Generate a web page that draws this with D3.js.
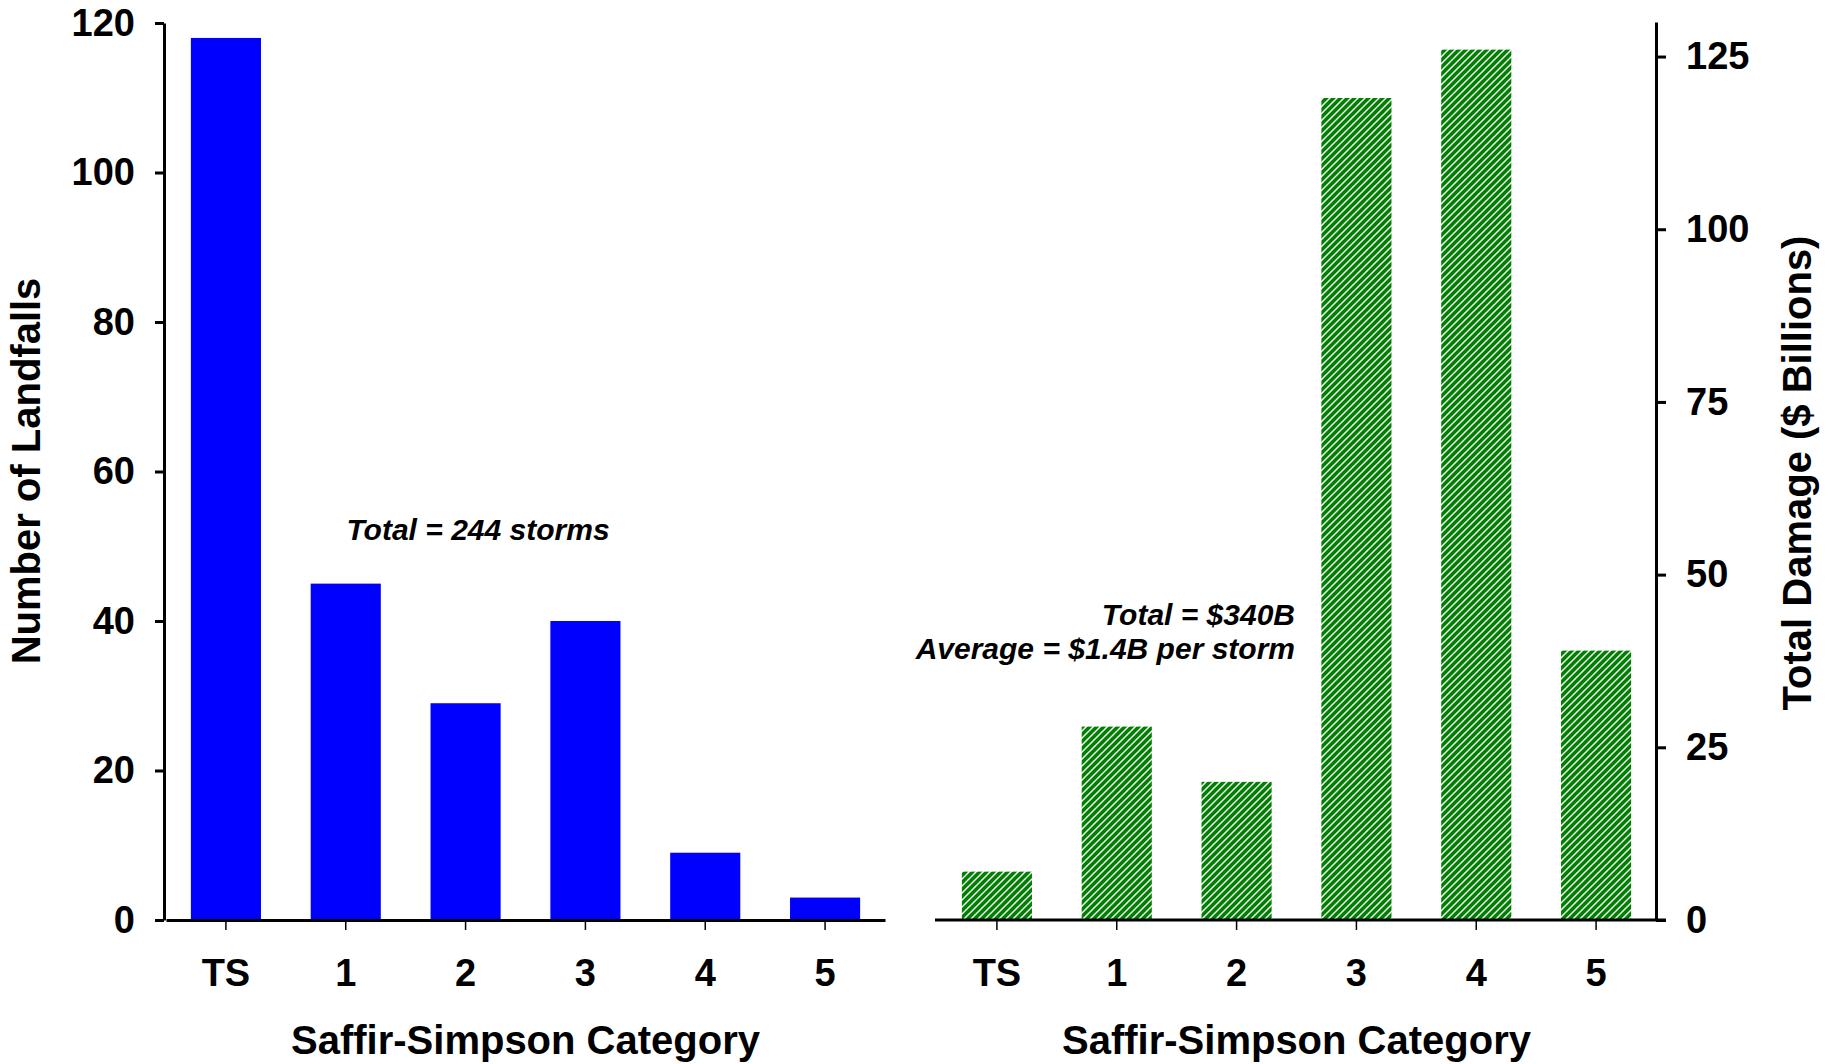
<!DOCTYPE html>
<html><head><meta charset="utf-8">
<script src="https://cdn.jsdelivr.net/npm/d3@7"></script>
<style>
html,body{margin:0;padding:0;background:#fff;}
svg text{font-family:"Liberation Sans", Arial, sans-serif;font-weight:bold;fill:#000;}
</style></head>
<body>
<svg id="chart" width="1833" height="1064"></svg>
<script>
const categories = ["TS", "1", "2", "3", "4", "5"];
const landfalls = [118, 45, 29, 40, 9, 3];
const damage = [7, 28, 20, 119, 126, 39];
const leftTicks = [0, 20, 40, 60, 80, 100, 120];
const rightTicks = [0, 25, 50, 75, 100, 125];
const xTitle = "Saffir-Simpson Category";
const leftTitle = "Number of Landfalls";
const rightTitle = "Total Damage ($ Billions)";
const leftNote = "Total = 244 storms";
const rightNotes = ["Total = $340B", "Average = $1.4B per storm"];

const svg = d3.select("#chart");
const y0 = 920;

const defs = svg.append("defs");
const pat = defs.append("pattern").attr("id", "hatch").attr("patternUnits", "userSpaceOnUse")
  .attr("width", 7).attr("height", 7);
pat.append("rect").attr("width", 7).attr("height", 7).attr("fill", "#008000");
pat.append("path").attr("d", "M-1,1 L1,-1 M0,7 L7,0 M6,8 L8,6")
  .attr("stroke", "#fff").attr("stroke-width", 1.4);

// LEFT PANEL
const xL = d3.scaleBand().domain(categories).range([166, 885]).paddingInner(0.415).paddingOuter(0.2075);
const yL = d3.scaleLinear().domain([0, 120]).range([y0, 23]);

svg.append("g").selectAll("rect").data(landfalls).join("rect")
  .attr("x", (d, i) => xL(categories[i])).attr("width", xL.bandwidth())
  .attr("y", d => yL(d)).attr("height", d => y0 - yL(d)).attr("fill", "#0000ff");

const gyL = svg.append("g").attr("transform", "translate(164,0)")
  .call(d3.axisLeft(yL).tickValues(leftTicks).tickSize(9).tickPadding(20).tickSizeOuter(0));
gyL.select(".domain").attr("stroke-width", 3);
gyL.selectAll(".tick line").attr("stroke-width", 3);
gyL.selectAll("text").attr("font-size", 38);

const gxL = svg.append("g").attr("transform", `translate(0,${y0})`)
  .call(d3.axisBottom(xL).tickSize(10).tickPadding(29).tickSizeOuter(0));
gxL.select(".domain").attr("stroke-width", 3);
gxL.selectAll(".tick line").attr("stroke-width", 1.5);
gxL.selectAll("text").attr("font-size", 38);

svg.append("text").attr("x", (166 + 885) / 2).attr("y", 1054).attr("text-anchor", "middle")
  .attr("font-size", 40).text(xTitle);
svg.append("text").attr("transform", "translate(40,471) rotate(-90)").attr("text-anchor", "middle")
  .attr("font-size", 40).text(leftTitle);
svg.append("text").attr("x", 478).attr("y", 540).attr("text-anchor", "middle")
  .attr("font-size", 30).attr("font-style", "italic").text(leftNote);

// RIGHT PANEL
const xR = d3.scaleBand().domain(categories).range([937, 1656]).paddingInner(0.415).paddingOuter(0.2075);
const yR = d3.scaleLinear().domain([0, 130]).range([y0, 22]);

svg.append("g").selectAll("rect").data(damage).join("rect")
  .attr("x", (d, i) => xR(categories[i])).attr("width", xR.bandwidth())
  .attr("y", d => yR(d)).attr("height", d => y0 - yR(d)).attr("fill", "url(#hatch)");

const gxR = svg.append("g").attr("transform", `translate(0,${y0})`)
  .call(d3.axisBottom(xR).tickSize(10).tickPadding(29).tickSizeOuter(0));
gxR.select(".domain").attr("d", "M935,0H1666").attr("stroke-width", 3);
gxR.selectAll(".tick line").attr("stroke-width", 1.5);
gxR.selectAll("text").attr("font-size", 38);

const gyR = svg.append("g").attr("transform", "translate(1656,0)")
  .call(d3.axisRight(yR).tickValues(rightTicks).tickSize(10).tickPadding(20).tickSizeOuter(0));
gyR.select(".domain").attr("stroke-width", 3);
gyR.selectAll(".tick line").attr("stroke-width", 3);
gyR.selectAll("text").attr("font-size", 38);

svg.append("text").attr("x", (937 + 1656) / 2).attr("y", 1054).attr("text-anchor", "middle")
  .attr("font-size", 40).text(xTitle);
svg.append("text").attr("transform", "translate(1811,473) rotate(-90)").attr("text-anchor", "middle")
  .attr("font-size", 40).text(rightTitle);
svg.append("g").selectAll("text").data(rightNotes).join("text")
  .attr("x", 1295).attr("y", (d, i) => 625 + i * 34).attr("text-anchor", "end")
  .attr("font-size", 30).attr("font-style", "italic").text(d => d);
</script>
</body></html>
